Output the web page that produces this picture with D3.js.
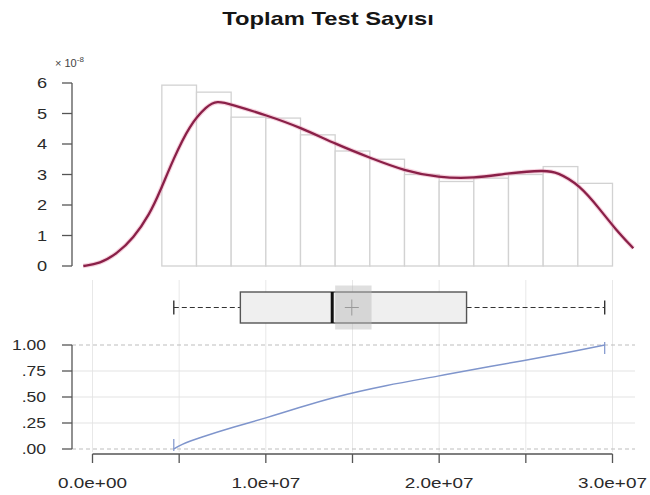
<!DOCTYPE html>
<html>
<head>
<meta charset="utf-8">
<script src="https://cdn.jsdelivr.net/npm/d3@7"></script>
<style>
  html, body { margin: 0; padding: 0; background: #fff; }
  svg { display: block; }
  text { font-family: "Liberation Sans", Arial, sans-serif; }
</style>
</head>
<body>
<script>
// ---------- data ----------
const title = "Toplam Test Sayısı";
// histogram bins (edges, raw units) and densities (x 1e-8)
const binEdges = [4e6, 6e6, 8e6, 10e6, 12e6, 14e6, 16e6, 18e6, 20e6, 22e6, 24e6, 26e6, 28e6, 30e6];
const binDensity = [5.93, 5.70, 4.88, 4.85, 4.30, 3.77, 3.50, 3.00, 2.77, 2.88, 3.00, 3.26, 2.71];
// kernel density curve (x in raw units, y x 1e-8)
const densX = [-0.53e6, 0.43e6, 1.4e6, 2.35e6, 3.3e6, 3.9e6, 4.66e6, 5.6e6, 6.6e6, 7.17e6, 8.0e6, 10.05e6, 11.97e6, 14.1e6, 16.0e6, 18.0e6, 19.95e6, 22.0e6, 24.05e6, 26.1e6, 26.8e6, 28.1e6, 29.3e6, 30.15e6, 31.2e6];
const densY = [0, 0.08, 0.40, 0.90, 1.70, 2.45, 3.50, 4.62, 5.25, 5.42, 5.30, 4.94, 4.55, 3.98, 3.55, 3.12, 2.90, 2.87, 3.05, 3.14, 3.08, 2.66, 1.84, 1.22, 0.58];
// boxplot stats
const whiskerLow = 4.69e6, q1 = 8.53e6, median = 13.83e6, q3 = 21.58e6, whiskerHigh = 29.55e6;
const meanValue = 14.96e6, meanCI = [14.0e6, 16.1e6];
// empirical cdf
const ecdfX = [4.69e6, 5.05e6, 6.2e6, 8.12e6, 10.05e6, 11.97e6, 13.7e6, 16.97e6, 19.95e6, 22.75e6, 26.6e6, 29.55e6];
const ecdfY = [0, 0.04, 0.11, 0.21, 0.30, 0.40, 0.49, 0.615, 0.70, 0.79, 0.90, 1.0];
// tick labels
const densTicks = [0, 1, 2, 3, 4, 5, 6];
const ecdfTicks = [0, 0.25, 0.5, 0.75, 1];
const ecdfTickLabels = [".00", ".25", ".50", ".75", "1.00"];
const xMinorTicks = [0, 5e6, 10e6, 15e6, 20e6, 25e6, 30e6];
const xLabelTicks = [0, 10e6, 20e6, 30e6];
const xTickLabels = ["0.0e+00", "1.0e+07", "2.0e+07", "3.0e+07"];

// ---------- layout ----------
const W = 650, H = 495;
const svg = d3.select("body").append("svg").attr("width", W).attr("height", H);

const x = d3.scaleLinear().domain([0, 30e6]).range([92.5, 612.5]);
const yD = d3.scaleLinear().domain([0, 6]).range([266, 83]);
const yE = d3.scaleLinear().domain([0, 1]).range([449, 345]);
const boxY = 307.5;

const TXT = "#2a2a2a";
function label(g, px, py, str, size, sx, anchor, weight) {
  return g.append("text")
    .attr("transform", `translate(${px},${py}) scale(${sx},1)`)
    .attr("text-anchor", anchor)
    .attr("font-size", size)
    .attr("font-weight", weight || "normal")
    .attr("fill", TXT)
    .text(str);
}

// title
label(svg, 328, 25, title, 19, 1.25, "middle", "bold").attr("fill", "#151515");

// ---------- grid (box + ecdf panels) ----------
const grid = svg.append("g");
grid.selectAll("line.v").data(xMinorTicks).join("line")
  .attr("x1", d => x(d)).attr("x2", d => x(d))
  .attr("y1", 280).attr("y2", 452)
  .attr("stroke", "#e8e8e8").attr("stroke-width", 1);
grid.selectAll("line.h").data(ecdfTicks).join("line")
  .attr("x1", 72).attr("x2", 635)
  .attr("y1", d => yE(d)).attr("y2", d => yE(d))
  .attr("stroke", d => (d === 0 || d === 1) ? "#bdbdbd" : "#e3e3e3")
  .attr("stroke-dasharray", d => (d === 0 || d === 1) ? "4,3" : null)
  .attr("stroke-width", 1);

// ---------- histogram ----------
const bins = binDensity.map((v, i) => ({ x0: binEdges[i], x1: binEdges[i + 1], v }));
svg.append("g").selectAll("rect").data(bins).join("rect")
  .attr("x", d => x(d.x0)).attr("width", d => x(d.x1) - x(d.x0))
  .attr("y", d => yD(d.v)).attr("height", d => yD(0) - yD(d.v))
  .attr("fill", "#fff").attr("stroke", "#d2d2d2").attr("stroke-width", 1.3);

// density curve
const densPts = densX.map((v, i) => [v, densY[i]]);
const dLine = d3.line().x(d => x(d[0])).y(d => yD(d[1])).curve(d3.curveBasis);
svg.append("path").attr("d", dLine(densPts)).attr("fill", "none")
  .attr("stroke", "#f0a8c0").attr("stroke-width", 4.5).attr("stroke-opacity", 0.5);
svg.append("path").attr("d", dLine(densPts)).attr("fill", "none")
  .attr("stroke", "#8a2048").attr("stroke-width", 2.3);

// density y axis
const gD = svg.append("g");
gD.append("line").attr("x1", 72).attr("x2", 72).attr("y1", yD(0)).attr("y2", yD(6))
  .attr("stroke", "#555").attr("stroke-width", 1.3);
gD.selectAll("line.t").data(densTicks).join("line")
  .attr("x1", 62).attr("x2", 72).attr("y1", d => yD(d)).attr("y2", d => yD(d))
  .attr("stroke", "#555").attr("stroke-width", 1.3);
densTicks.forEach(t => label(gD, 47, yD(t) + 5, String(t), 14, 1.3, "end"));
// scale factor label
const sf = gD.append("text").attr("transform", "translate(55,67)")
  .attr("font-size", 11).attr("fill", "#444");
sf.append("tspan").text("× 10");
sf.append("tspan").attr("dy", -5).attr("font-size", 8).text("-8");

// ---------- boxplot ----------
const gB = svg.append("g");
const bh = 31;
gB.append("line").attr("x1", x(whiskerLow)).attr("x2", x(q1)).attr("y1", boxY).attr("y2", boxY)
  .attr("stroke", "#333").attr("stroke-width", 1.2).attr("stroke-dasharray", "5,3");
gB.append("line").attr("x1", x(q3)).attr("x2", x(whiskerHigh)).attr("y1", boxY).attr("y2", boxY)
  .attr("stroke", "#333").attr("stroke-width", 1.2).attr("stroke-dasharray", "5,3");
[whiskerLow, whiskerHigh].forEach(v => gB.append("line")
  .attr("x1", x(v)).attr("x2", x(v)).attr("y1", boxY - 7).attr("y2", boxY + 7)
  .attr("stroke", "#333").attr("stroke-width", 1.4));
gB.append("rect").attr("x", x(q1)).attr("width", x(q3) - x(q1))
  .attr("y", boxY - bh / 2).attr("height", bh)
  .attr("fill", "#efefef").attr("stroke", "#555").attr("stroke-width", 1.4);
gB.append("rect").attr("x", x(meanCI[0])).attr("width", x(meanCI[1]) - x(meanCI[0]))
  .attr("y", boxY - 22).attr("height", 44)
  .attr("fill", "#b8b8b8").attr("fill-opacity", 0.45);
gB.append("line").attr("x1", x(median)).attr("x2", x(median))
  .attr("y1", boxY - bh / 2).attr("y2", boxY + bh / 2)
  .attr("stroke", "#111").attr("stroke-width", 3);
gB.append("line").attr("x1", x(meanValue) - 7).attr("x2", x(meanValue) + 7)
  .attr("y1", boxY).attr("y2", boxY).attr("stroke", "#999").attr("stroke-width", 1);
gB.append("line").attr("x1", x(meanValue)).attr("x2", x(meanValue))
  .attr("y1", boxY - 8).attr("y2", boxY + 8).attr("stroke", "#999").attr("stroke-width", 1);

// ---------- ecdf ----------
const gE = svg.append("g");
const ePts = ecdfX.map((v, i) => [v, ecdfY[i]]);
const eLine = d3.line().x(d => x(d[0])).y(d => yE(d[1])).curve(d3.curveBasis);
gE.append("path").attr("d", eLine(ePts)).attr("fill", "none")
  .attr("stroke", "#7f95cc").attr("stroke-width", 1.5);
gE.append("line").attr("x1", x(ecdfX[0])).attr("x2", x(ecdfX[0]))
  .attr("y1", yE(0) - 10).attr("y2", yE(0) + 2).attr("stroke", "#7f95cc").attr("stroke-width", 1.2);
gE.append("line").attr("x1", x(ecdfX[ecdfX.length - 1])).attr("x2", x(ecdfX[ecdfX.length - 1]))
  .attr("y1", yE(1) - 3).attr("y2", yE(1) + 9).attr("stroke", "#7f95cc").attr("stroke-width", 1.2);

gE.append("line").attr("x1", 72).attr("x2", 72).attr("y1", yE(0)).attr("y2", yE(1))
  .attr("stroke", "#555").attr("stroke-width", 1.3);
gE.selectAll("line.t").data(ecdfTicks).join("line")
  .attr("x1", 62).attr("x2", 72).attr("y1", d => yE(d)).attr("y2", d => yE(d))
  .attr("stroke", "#555").attr("stroke-width", 1.3);
ecdfTicks.forEach((t, i) => label(gE, 46, yE(t) + 5, ecdfTickLabels[i], 14, 1.25, "end"));

// ---------- x axis ----------
const gX = svg.append("g");
gX.append("line").attr("x1", x(0)).attr("x2", x(30e6)).attr("y1", 454).attr("y2", 454)
  .attr("stroke", "#555").attr("stroke-width", 1.3);
gX.selectAll("line.t").data(xMinorTicks).join("line")
  .attr("x1", d => x(d)).attr("x2", d => x(d)).attr("y1", 454).attr("y2", 463)
  .attr("stroke", "#555").attr("stroke-width", 1.3);
xLabelTicks.forEach((t, i) => label(gX, x(t), 488, xTickLabels[i], 14, 1.35, "middle"));
</script>
</body>
</html>
